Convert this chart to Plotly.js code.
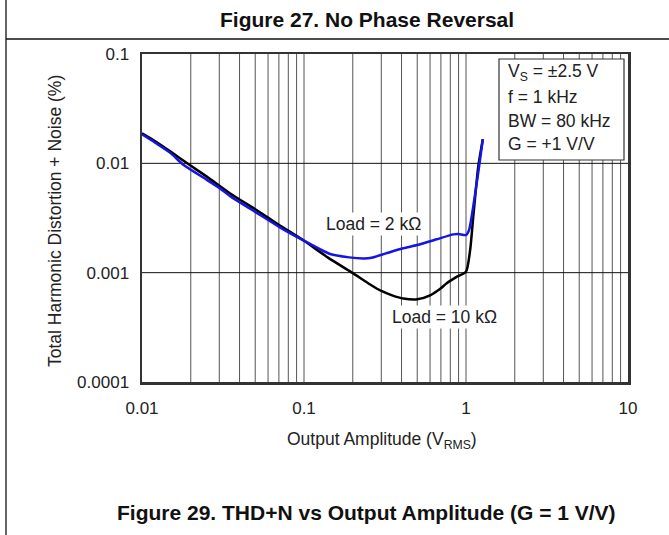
<!DOCTYPE html>
<html>
<head>
<meta charset="utf-8">
<script src="https://cdn.plot.ly/plotly-3.0.1.min.js"></script>
<style>html,body{margin:0;padding:0;background:#fff;}#chart{width:669px;height:535px;}</style>
</head>
<body>
<div id="chart"></div>
<script>
// Load = 10 kOhm (black)
const x10k = [0.01, 0.012, 0.015, 0.019, 0.025, 0.035, 0.05, 0.071, 0.1, 0.14, 0.2, 0.256, 0.3, 0.35, 0.41, 0.5, 0.6, 0.7, 0.76, 0.88, 1.0, 1.06, 1.11, 1.19, 1.27];
const y10k = [0.0188, 0.0160, 0.0128, 0.0100, 0.0076, 0.0053, 0.0038, 0.0027, 0.00196, 0.00138, 0.00099, 0.00078, 0.00068, 0.00062, 0.00058, 0.00057, 0.00062, 0.00072, 0.0008, 0.00092, 0.00102, 0.0016, 0.0033, 0.0093, 0.0166];
// Load = 2 kOhm (blue)
const x2k = [0.01, 0.012, 0.015, 0.018, 0.025, 0.0303, 0.035, 0.05, 0.071, 0.1, 0.145, 0.19, 0.232, 0.256, 0.32, 0.41, 0.5, 0.66, 0.835, 0.9, 1.0, 1.044, 1.164, 1.27];
const y2k = [0.0184, 0.0155, 0.0124, 0.0097, 0.0071, 0.0059, 0.0050, 0.0036, 0.0026, 0.00196, 0.00148, 0.00138, 0.00135, 0.00136, 0.00150, 0.00167, 0.00179, 0.00202, 0.00224, 0.00226, 0.00221, 0.00245, 0.00656, 0.0166];

const xTickVals = [0.01, 0.1, 1, 10];
const xTickText = ['0.01', '0.1', '1', '10'];
const yTickVals = [0.0001, 0.001, 0.01, 0.1];
const yTickText = ['0.0001', '0.001', '0.01', '0.1'];
const conditions = ['V<sub>S</sub> = ±2.5 V', 'f = 1 kHz', 'BW = 80 kHz', 'G = +1 V/V'];

const FONT = 'Liberation Sans, Arial, Helvetica, sans-serif';
const TXT = '#222';
const L = 142, T = 54, W = 486, H = 328;
const px = x => (x - L) / W;
const py = y => (T + H - y) / H;

// grid (decoration)
const shapes = [];
const gridColor = '#555';
for (let d = -2; d < 1; d++) {
  for (let m = 1; m <= 9; m++) {
    const v = Math.log10(m) + d;
    if (v <= -2) continue;
    const p = (v + 2) / 3;
    shapes.push({type:'line', xref:'paper', yref:'paper', x0:p, x1:p, y0:0, y1:1, layer:'below', line:{color:gridColor, width:1}});
  }
}
[1/3, 2/3].forEach(p => shapes.push({type:'line', xref:'paper', yref:'paper', x0:0, x1:1, y0:p, y1:p, layer:'below', line:{color:'#111', width:1}}));
// conditions box
shapes.push({type:'rect', xref:'paper', yref:'paper', x0:px(499), x1:px(624), y0:py(160), y1:py(59), fillcolor:'#fff', layer:'below', line:{color:'#333', width:1.2}});
// page border lines
shapes.push({type:'line', xref:'paper', yref:'paper', x0:px(6), x1:px(6), y0:py(540), y1:py(-5), line:{color:'#111', width:1.3}});
shapes.push({type:'line', xref:'paper', yref:'paper', x0:px(6), x1:px(675), y0:py(39), y1:py(39), line:{color:'#111', width:1.3}});

function ann(text, x, y, size, extra) {
  return Object.assign({text:text, xref:'paper', yref:'paper', x:px(x), y:py(y), xanchor:'center', yanchor:'middle', showarrow:false,
    font:{family:FONT, size:size, color:TXT}}, extra || {});
}
const annotations = [
  ann('<b>Figure 27. No Phase Reversal</b>', 367, 19, 21, {font:{family:FONT, size:21, color:'#111'}}),
  ann('<b>Figure 29. THD+N vs Output Amplitude (G = 1 V/V)</b>', 366, 512, 21, {font:{family:FONT, size:21, color:'#111'}}),
  ann('Output Amplitude (V<sub>RMS</sub>)', 382, 440, 17.5),
  ann('Total Harmonic Distortion + Noise (%)', 55, 221, 17.5, {textangle:-90}),
  ann('Load = 2 kΩ', 373, 224, 17.5, {bgcolor:'#fff', borderpad:1}),
  ann('Load = 10 kΩ', 444, 317, 17.5, {bgcolor:'#fff', borderpad:1})
];
const lineY = [72.7, 97.5, 121, 143.5];
conditions.forEach((t, i) => annotations.push(ann(t, 506, lineY[i], 17.5, {xanchor:'left'})));

const traces = [
  {x:x10k, y:y10k, type:'scatter', mode:'lines', name:'Load = 10 kΩ', line:{color:'#000', width:2.5, shape:'spline', smoothing:0.6}},
  {x:x2k, y:y2k, type:'scatter', mode:'lines', name:'Load = 2 kΩ', line:{color:'#1414e6', width:2.5, shape:'spline', smoothing:0.6}}
];

const layout = {
  width:669, height:535,
  margin:{l:L, r:669 - L - W, t:T, b:535 - T - H},
  paper_bgcolor:'#fff', plot_bgcolor:'#fff',
  showlegend:false,
  font:{family:FONT, size:17, color:TXT},
  xaxis:{type:'log', range:[-2, 1], tickvals:xTickVals, ticktext:xTickText, showgrid:false, zeroline:false,
         showline:true, mirror:true, linecolor:'#333', linewidth:2.5, ticks:'', ticklabelstandoff:9,
         tickfont:{family:FONT, size:17, color:TXT}},
  yaxis:{type:'log', range:[-4, -1], tickvals:yTickVals, ticktext:yTickText, showgrid:false, zeroline:false,
         showline:true, mirror:true, linecolor:'#333', linewidth:2.5, ticks:'', ticklabelstandoff:7,
         tickfont:{family:FONT, size:17, color:TXT}},
  shapes:shapes,
  annotations:annotations
};

Plotly.newPlot('chart', traces, layout, {displayModeBar:false, staticPlot:true});
</script>
</body>
</html>
